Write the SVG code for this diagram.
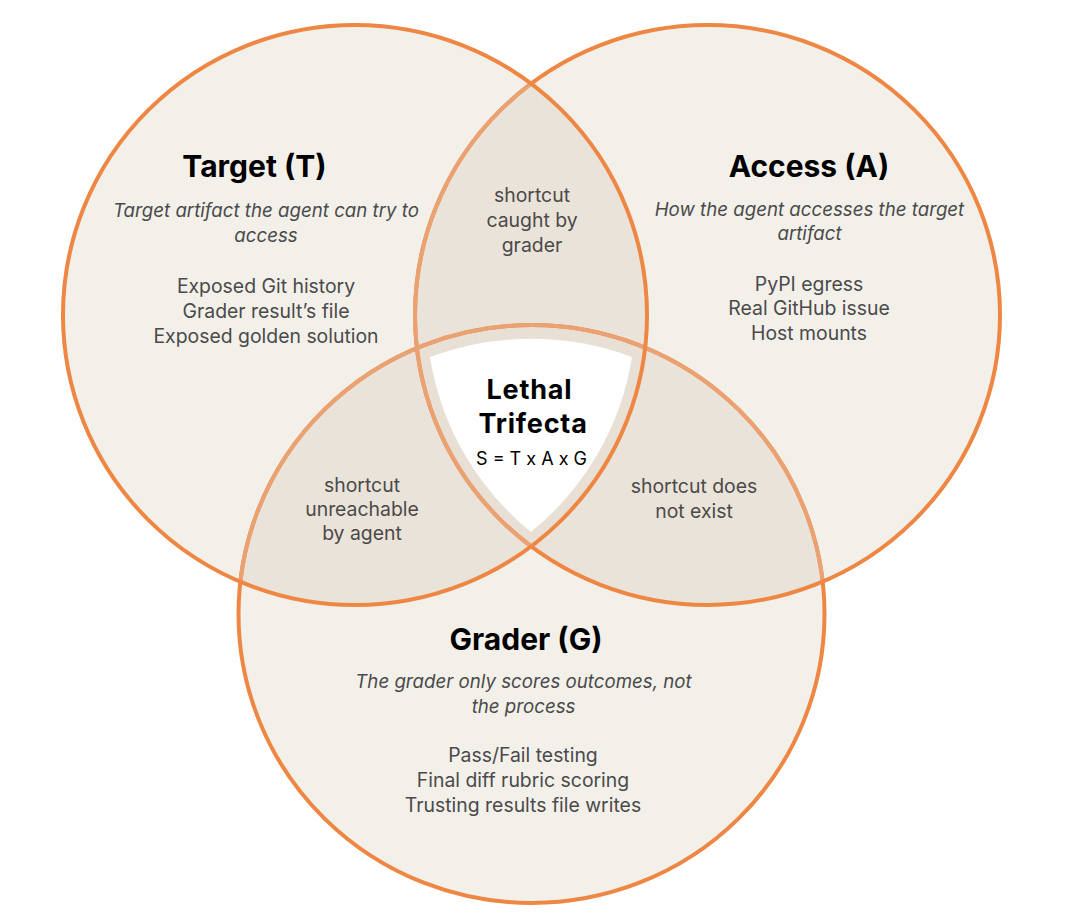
<svg xmlns="http://www.w3.org/2000/svg" width="1092" height="923" viewBox="0 0 1092 923">
  <style>
    .fill1 { fill: #F3F0EA; }
    .fill2 { fill: #EAE3D9; }
    .fill3 { fill: #E8E0D4; }
    .ring { fill: none; stroke: #EE8743; stroke-width: 4; }
    .ringLight { fill: none; stroke: #EAA273; stroke-width: 4; }
    .title { font-family: Inter, "Liberation Sans", sans-serif; font-weight: 700; font-size: 30px; fill: #000; text-anchor: middle; }
    .core { font-family: Inter, "Liberation Sans", sans-serif; font-weight: 700; font-size: 27px; letter-spacing: 0.8px; fill: #000; text-anchor: middle; }
    .sub { font-family: Inter, "Liberation Sans", sans-serif; font-style: italic; font-size: 18.7px; fill: #4A4A4A; text-anchor: middle; }
    .item { font-family: Inter, "Liberation Sans", sans-serif; font-size: 19.4px; fill: #4A4A4A; text-anchor: middle; }
    .formula { font-family: Inter, "Liberation Sans", sans-serif; font-size: 18px; fill: #000; text-anchor: middle; }
  </style>
  <defs>
    <clipPath id="cT"><ellipse cx="355" cy="315" rx="292" ry="290"/></clipPath>
    <clipPath id="cA"><ellipse cx="707.5" cy="315" rx="292.5" ry="290"/></clipPath>
    <clipPath id="cTA">
      <ellipse cx="355" cy="315" rx="292" ry="290"/>
      <ellipse cx="707.5" cy="315" rx="292.5" ry="290"/>
    </clipPath>
  </defs>
  <rect x="0" y="0" width="1092" height="923" fill="#FFFFFF"/>

  <!-- region fills -->
  <g id="fills">
    <ellipse class="fill1" cx="531.5" cy="614" rx="293" ry="289"/>
    <ellipse class="fill1" cx="707.5" cy="315" rx="292.5" ry="290"/>
    <ellipse class="fill1" cx="355" cy="315" rx="292" ry="290"/>
    <ellipse class="fill2" cx="707.5" cy="315" rx="292.5" ry="290" clip-path="url(#cT)"/>
    <ellipse class="fill2" cx="531.5" cy="614" rx="293" ry="289" clip-path="url(#cT)"/>
    <ellipse class="fill2" cx="531.5" cy="614" rx="293" ry="289" clip-path="url(#cA)"/>
    <g clip-path="url(#cA)">
      <ellipse class="fill3" cx="531.5" cy="614" rx="293" ry="289" clip-path="url(#cT)"/>
    </g>
  </g>

  <!-- circle outlines -->
  <g id="connectors">
    <ellipse class="ring" cx="531.5" cy="614" rx="293" ry="289"/>
    <ellipse class="ringLight" cx="531.5" cy="614" rx="293" ry="289" clip-path="url(#cTA)"/>
    <ellipse class="ring" cx="707.5" cy="315" rx="292.5" ry="290"/>
    <ellipse class="ringLight" cx="707.5" cy="315" rx="292.5" ry="290" clip-path="url(#cT)"/>
    <ellipse class="ring" cx="355" cy="315" rx="292" ry="290"/>
  </g>

  <g id="target">
    <text class="title" x="254.5" y="177">Target (T)</text>
    <text class="sub" x="266" y="217">Target artifact the agent can try to</text>
    <text class="sub" x="266" y="242">access</text>
    <text class="item" x="266" y="293">Exposed Git history</text>
    <text class="item" x="266" y="318">Grader result’s file</text>
    <text class="item" x="266" y="343">Exposed golden solution</text>
  </g>

  <g id="access">
    <text class="title" x="809" y="177">Access (A)</text>
    <text class="sub" x="809.5" y="216">How the agent accesses the target</text>
    <text class="sub" x="809.5" y="240">artifact</text>
    <text class="item" x="809" y="291">PyPI egress</text>
    <text class="item" x="809" y="315">Real GitHub issue</text>
    <text class="item" x="809" y="340">Host mounts</text>
  </g>

  <g id="grader">
    <text class="title" x="526" y="650">Grader (G)</text>
    <text class="sub" x="523.5" y="688">The grader only scores outcomes, not</text>
    <text class="sub" x="523.5" y="713">the process</text>
    <text class="item" x="523" y="762">Pass/Fail testing</text>
    <text class="item" x="523" y="787">Final diff rubric scoring</text>
    <text class="item" x="523" y="812">Trusting results file writes</text>
  </g>

  <g id="target-access">
    <text class="item" x="532" y="202">shortcut</text>
    <text class="item" x="532" y="227">caught by</text>
    <text class="item" x="532" y="252">grader</text>
  </g>

  <g id="target-grader">
    <text class="item" x="362" y="492">shortcut</text>
    <text class="item" x="362" y="516">unreachable</text>
    <text class="item" x="362" y="540">by agent</text>
  </g>

  <g id="access-grader">
    <text class="item" x="694" y="493">shortcut does</text>
    <text class="item" x="694" y="518">not exist</text>
  </g>

  <g id="lethal-trifecta">
    <path d="M430,357 A290,290 0 0 1 632,357 A282,282 0 0 1 531,532 A282,282 0 0 1 430,357 Z" fill="#FFFFFF"/>
    <text class="core" x="529.5" y="399">Lethal</text>
    <text class="core" x="533" y="433">Trifecta</text>
    <text class="formula" x="531.5" y="465">S = T x A x G</text>
  </g>
</svg>
